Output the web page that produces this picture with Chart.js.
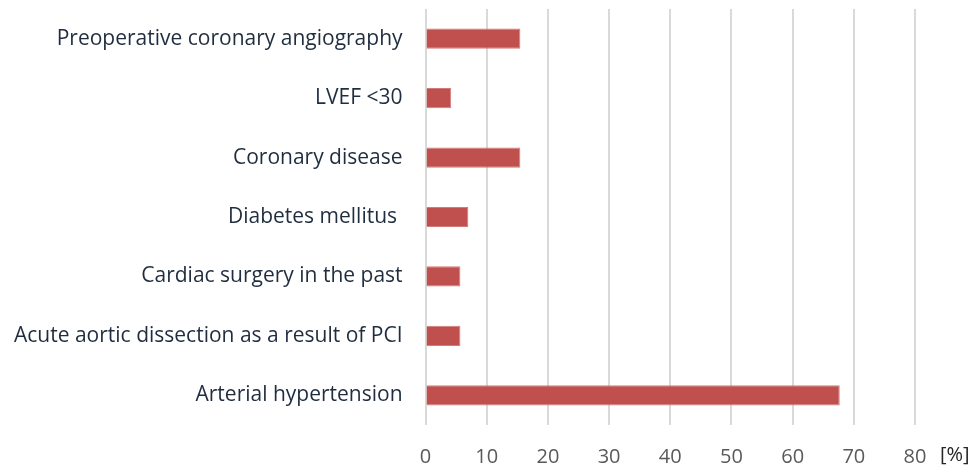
<!DOCTYPE html>
<html>
<head>
<meta charset="utf-8">
<script src="https://cdn.jsdelivr.net/npm/chart.js@4"></script>
<style>
  html, body { margin: 0; padding: 0; background: #fff; }
  #wrap { width: 976px; height: 469px; }
</style>
</head>
<body>
<div id="wrap"><canvas id="myChart"></canvas></div>
<script>
const categories = [
    'Preoperative coronary angiography',
    'LVEF <30',
    'Coronary disease',
    'Diabetes mellitus ',
    'Cardiac surgery in the past',
    'Acute aortic dissection as a result of PCI',
    'Arterial hypertension'
];
const percentValues = [15.5, 4.2, 15.5, 7.0, 5.7, 5.7, 67.7];
const xTicks = [0, 10, 20, 30, 40, 50, 60, 70, 80];
const unitLabel = '[%]';

// draws the unit label to the right of the last x tick
const unitPlugin = {
    id: 'unitLabel',
    afterDraw(chart) {
        const ctx = chart.ctx;
        const x = chart.scales.x;
        ctx.save();
        ctx.font = '20px "Open Sans", sans-serif';
        ctx.fillStyle = '#262626';
        ctx.textAlign = 'left';
        ctx.textBaseline = 'middle';
        ctx.fillText(unitLabel, x.right + 25, x.top + 30);
        ctx.restore();
    }
};

document.addEventListener('DOMContentLoaded', () => {
    const ctx = document.getElementById('myChart').getContext('2d');

    new Chart(ctx, {
        type: 'bar',
        data: {
            labels: categories,
            datasets: [{
                data: percentValues,
                backgroundColor: '#C0504D',
                borderColor: '#D27C7A',
                borderWidth: 1,
                categoryPercentage: 1,
                barPercentage: 0.34,
            }]
        },
        options: {
            indexAxis: 'y',
            responsive: true,
            maintainAspectRatio: false,
            animation: false,
            layout: {
                padding: { top: 9, right: 61, bottom: 0, left: 14 }
            },
            plugins: {
                legend: { display: false },
                tooltip: { enabled: false }
            },
            scales: {
                x: {
                    min: 0,
                    max: 80,
                    afterBuildTicks: (scale) => {
                        scale.ticks = xTicks.map(v => ({ value: v }));
                    },
                    afterFit: (scale) => {
                        // padding is counted twice by default
                        scale.height -= 20;
                        scale.paddingLeft = 0;
                        scale.paddingRight = 0;
                    },
                    grid: {
                        color: '#D9D9D9',
                        lineWidth: 2,
                        drawTicks: false,
                    },
                    border: { display: false },
                    ticks: {
                        color: '#595959',
                        padding: 20,
                        font: { family: '"Open Sans", sans-serif', size: 20 }
                    }
                },
                y: {
                    afterFit: (scale) => {
                        scale.width -= 15;
                        scale.paddingTop = 0;
                        scale.paddingBottom = 0;
                    },
                    grid: { display: false },
                    border: { display: false },
                    ticks: {
                        color: '#1F2D3F',
                        padding: 15,
                        font: { family: '"Open Sans", sans-serif', size: 21 }
                    }
                }
            }
        },
        plugins: [unitPlugin]
    });
});
</script>
</body>
</html>
